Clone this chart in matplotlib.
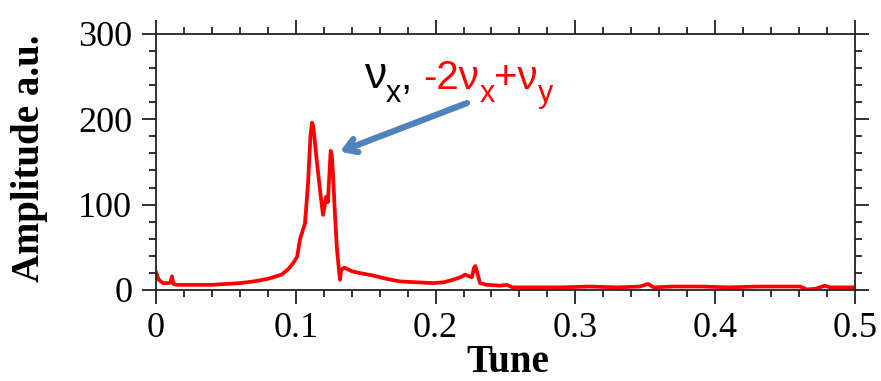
import numpy as np
import matplotlib.pyplot as plt
from matplotlib.ticker import MultipleLocator

# spectrum
tune = [0, 0.002, 0.005, 0.009, 0.0105, 0.0114, 0.0125, 0.015, 0.02, 0.03,
        0.04, 0.05, 0.06, 0.07, 0.08, 0.09, 0.095, 0.098, 0.101, 0.103,
        0.1066, 0.1088, 0.1105, 0.1116, 0.1125, 0.115, 0.1175, 0.1195, 0.1208, 0.1216,
        0.123, 0.1242, 0.125, 0.1258, 0.1266, 0.128, 0.1295, 0.130, 0.1316, 0.1323,
        0.1335, 0.135, 0.14, 0.145, 0.155, 0.165, 0.1745, 0.186, 0.198, 0.206,
        0.2125, 0.218, 0.221, 0.224, 0.226, 0.2275, 0.2285, 0.2318, 0.2365, 0.246,
        0.251, 0.255, 0.27, 0.29, 0.31, 0.33, 0.346, 0.352, 0.356, 0.37,
        0.39, 0.41, 0.43, 0.45, 0.4607, 0.4657, 0.472, 0.4785, 0.482, 0.49, 0.5]
amp = [21, 12, 8, 8, 9, 16, 7, 6, 6, 6,
       6, 7, 8, 10, 13, 18, 25, 31, 39, 59,
       78, 125, 180, 196, 192, 152, 115, 88, 100, 109,
       103, 140, 163, 158, 137, 90, 47, 39, 12, 22,
       25, 26, 22, 20, 17, 13, 10, 9, 8, 9,
       12, 15, 18, 16, 15, 26, 28, 8, 6, 5,
       6, 3, 3, 3, 4, 3, 4, 7, 3, 4,
       4, 3, 4, 4, 4, 0.5, 1.5, 5, 3, 3, 3]

xticks = [0, 0.1, 0.2, 0.3, 0.4, 0.5]
xticklabels = ['0', '0.1', '0.2', '0.3', '0.4', '0.5']
yticks = [0, 100, 200, 300]

serif = 'Liberation Serif'
sans = 'Liberation Sans'

fig = plt.figure(figsize=(8.81, 3.81), dpi=100)
ax = fig.add_axes([0.177, 0.239, 0.7935, 0.672])

ax.plot(tune, amp, color='red', lw=2.7)

ax.set_xlim(0, 0.5)
ax.set_ylim(0, 300)
ax.set_xticks(xticks)
ax.set_xticklabels(xticklabels)
ax.set_yticks(yticks)
ax.xaxis.set_minor_locator(MultipleLocator(0.02))
ax.yaxis.set_minor_locator(MultipleLocator(20))
ax.tick_params(which='both', direction='out', top=True, right=True,
               width=1.3, colors='#222222')
ax.tick_params(which='major', length=10, labelsize=26, pad=6)
ax.tick_params(which='minor', length=5)
ax.tick_params(axis='y', pad=7)
for lab in ax.get_xticklabels() + ax.get_yticklabels():
    lab.set_fontfamily(serif)
    lab.set_color('black')
for sp in ax.spines.values():
    sp.set_linewidth(1.3)
    sp.set_color('#222222')

ax.set_xlabel('Tune', fontfamily=serif, fontweight='bold', fontsize=28)
ax.set_ylabel('Amplitude a.u.', fontfamily=serif, fontweight='bold', fontsize=28)
ax.xaxis.set_label_coords(0.504, -0.21)
ax.yaxis.set_label_coords(-0.154, 0.516)

# annotation text, pieces chained one after another
fs = 29
t = ax.text(0.1485, 237, '\u03bd', fontfamily=sans, fontsize=fs + 3, color='black')
parts = [('x', 'black', True), (', ', 'black', False), ('-2\u03bd', 'red', False),
         ('x', 'red', True), ('+\u03bd', 'red', False), ('y', 'red', True)]
prev = t
for s, c, sub in parts:
    dy = -9 if sub else 0
    if prev.get_text() in ('x', 'y'):
        dy += 9
    prev = ax.annotate(s, xy=(1, 0), xycoords=prev, xytext=(0, dy),
                       textcoords='offset points', fontfamily=sans,
                       fontsize=fs - 7 if sub else fs, color=c, va='bottom')

ax.annotate('', xy=(0.1316, 162), xytext=(0.2225, 219),
            arrowprops=dict(arrowstyle='->,head_length=0.8,head_width=0.5',
                            color='#4F81BD', lw=4.5, shrinkA=0, shrinkB=0))

fig.savefig('out.png', dpi=100)
